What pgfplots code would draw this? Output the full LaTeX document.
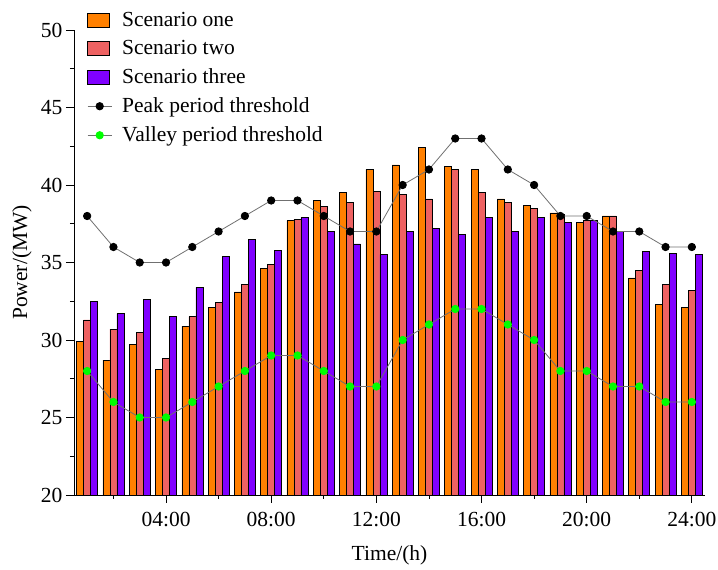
\documentclass[border=0pt]{standalone}
\usepackage{fontspec}
\setmainfont{Liberation Serif}
\usepackage{pgfplots}
\usepackage{pgfplotstable}
\pgfplotsset{compat=1.18}
\definecolor{c1}{HTML}{FF8000}
\definecolor{c2}{HTML}{EE6262}
\definecolor{c3}{HTML}{8000FF}
\definecolor{cg}{HTML}{00FF00}
\definecolor{lg}{HTML}{707070}
\pgfplotsset{
  barleg/.style={legend image code/.code={\draw[##1] (0pt,-7pt) rectangle (22pt,7pt); \path (30pt,0pt);}},
  lineleg/.style={legend image code/.code={\draw[mark repeat=2,mark phase=2,##1] plot coordinates {(0pt,0pt) (12pt,0pt) (24pt,0pt)}; \path (32pt,0pt);}},
}

\pgfplotstableread{
h s1 s2 s3 peak valley
1 29.9 31.3 32.5 38 28
2 28.7 30.7 31.7 36 26
3 29.7 30.5 32.6 35 25
4 28.1 28.8 31.5 35 25
5 30.9 31.5 33.4 36 26
6 32.1 32.4 35.4 37 27
7 33.1 33.6 36.5 38 28
8 34.6 34.9 35.8 39 29
9 37.7 37.8 37.9 39 29
10 39.0 38.6 37.0 38 28
11 39.5 38.9 36.2 37 27
12 41.0 39.6 35.5 37 27
13 41.3 39.4 37.0 40 30
14 42.4 39.1 37.2 41 31
15 41.2 41.0 36.8 43 32
16 41.0 39.5 37.9 43 32
17 39.1 38.9 37.0 41 31
18 38.7 38.5 37.9 40 30
19 38.2 38.1 37.6 38 28
20 37.6 37.7 37.7 38 28
21 38.0 38.0 37.0 37 27
22 34.0 34.5 35.7 37 27
23 32.3 33.6 35.6 36 26
24 32.1 33.2 35.5 36 26
}\data

\begin{document}
\begin{tikzpicture}
\useasboundingbox (0,0) rectangle (718pt,570pt);
\begin{axis}[
  at={(74pt,75pt)}, anchor=south west,
  width=631pt, height=465pt, scale only axis,
  xmin=0.5, xmax=24.5, ymin=20, ymax=50,
  axis lines*=left,
  xtick={4,8,12,16,20,24},
  xticklabels={04:00,08:00,12:00,16:00,20:00,24:00},
  minor xtick={2,6,10,14,18,22},
  ytick={20,25,...,50},
  minor ytick={22.5,27.5,...,47.5},
  tick align=outside,
  major tick length=8pt, minor tick length=4pt,
  tick style={black, line width=0.8pt},
  axis line style={line width=0.8pt},
  font=\fontsize{21.5}{25}\selectfont,
  /pgf/number format/assume math mode=true,
  xticklabel style={yshift=-6pt},
  xlabel={Time/(h)}, ylabel={Power/(MW)},
  xlabel style={at={(axis description cs:0.5,-0.129)}, anchor=center},
  ylabel style={at={(axis description cs:-0.0824,0.5)}, anchor=center},
  legend style={at={(axis description cs:0.016,1.047)}, anchor=north west,
    draw=none, fill=none, font=\fontsize{21.5}{25}\selectfont, row sep=8.6pt,
    cells={anchor=west}},
  legend cell align=left,
]
\addplot[ybar, bar width=0.266, bar shift=-0.266, fill=c1, draw=black, line width=0.6pt, barleg]
  table[x=h,y=s1] {\data};
\addlegendentry{Scenario one}
\addplot[ybar, bar width=0.266, bar shift=0, fill=c2, draw=black, line width=0.6pt, barleg]
  table[x=h,y=s2] {\data};
\addlegendentry{Scenario two}
\addplot[ybar, bar width=0.266, bar shift=0.266, fill=c3, draw=black, line width=0.6pt, barleg]
  table[x=h,y=s3] {\data};
\addlegendentry{Scenario three}
\addplot[lg, line width=0.8pt, mark=*, mark size=3.7pt, mark options={fill=black, draw=black}, lineleg]
  table[x=h,y=peak] {\data};
\addlegendentry{Peak period threshold}
\addplot[lg, line width=0.8pt, mark=*, mark size=3.7pt, mark options={fill=cg, draw=cg}, lineleg]
  table[x=h,y=valley] {\data};
\addlegendentry{Valley period threshold}
\end{axis}
\end{tikzpicture}
\end{document}
